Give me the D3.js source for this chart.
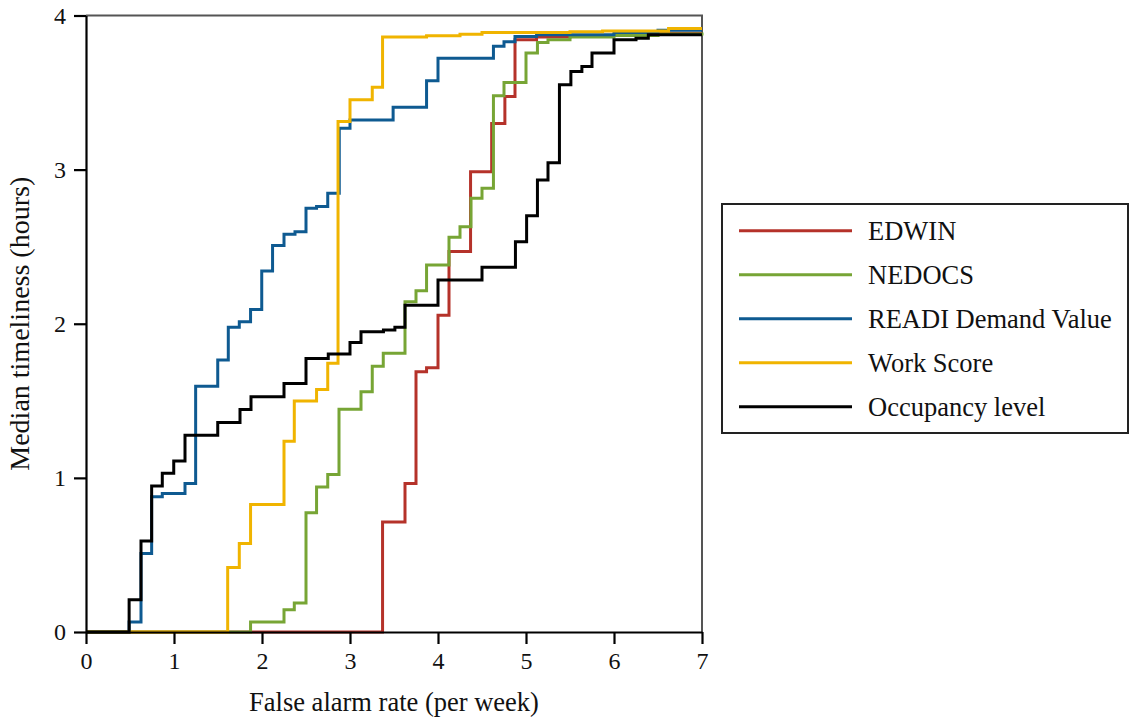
<!DOCTYPE html>
<html>
<head>
<meta charset="utf-8">
<script src="https://cdn.jsdelivr.net/npm/d3@7/dist/d3.min.js"></script>
<style>
  body { margin: 0; background: #fff; }
  svg text { font-family: "Liberation Serif", "Times New Roman", serif; fill: #111; }
</style>
</head>
<body>
<div id="chart"></div>
<script>
// series names and colours (legend order)
var names = ["EDWIN", "NEDOCS", "READI Demand Value", "Work Score", "Occupancy level"];
var colors = ["#b5322a", "#77a535", "#0e5a91", "#f0b400", "#000000"];

// step points: x = false alarms per week, y = median timeliness (hours)
var edwinX = [0, 3.37, 3.625, 3.75, 3.87, 4.0, 4.125, 4.37, 4.61, 4.76, 4.875, 5.12, 5.5, 6.0, 6.5, 7];
var edwinY = [0, 0.714, 0.964, 1.688, 1.714, 2.055, 2.468, 2.987, 3.30, 3.474, 3.842, 3.86, 3.87, 3.875, 3.885, 3.885];

var nedocsX = [0, 1.87, 2.25, 2.367, 2.5, 2.62, 2.747, 2.875, 3.125, 3.253, 3.378, 3.625, 3.75, 3.87, 4.125, 4.25, 4.375, 4.5, 4.63, 4.75, 5.0, 5.13, 5.25, 5.5, 6.0, 6.5, 7];
var nedocsY = [0, 0.065, 0.145, 0.188, 0.773, 0.94, 1.022, 1.446, 1.558, 1.725, 1.808, 2.143, 2.214, 2.381, 2.561, 2.63, 2.814, 2.879, 3.48, 3.565, 3.756, 3.825, 3.842, 3.86, 3.87, 3.88, 3.89];

var readiX = [0, 0.49, 0.625, 0.746, 0.867, 1.125, 1.246, 1.497, 1.617, 1.742, 1.87, 1.997, 2.12, 2.25, 2.375, 2.5, 2.62, 2.747, 2.878, 3.0, 3.49, 3.87, 4.0, 4.63, 4.75, 4.875, 5.12, 6.0, 6.5, 7];
var readiY = [0, 0.065, 0.509, 0.877, 0.899, 0.964, 1.595, 1.764, 1.977, 2.013, 2.093, 2.342, 2.507, 2.58, 2.597, 2.749, 2.76, 2.847, 3.269, 3.322, 3.405, 3.576, 3.723, 3.80, 3.83, 3.864, 3.875, 3.89, 3.905, 3.905];

var workX = [0, 1.61, 1.742, 1.87, 2.25, 2.367, 2.62, 2.747, 2.864, 3.0, 3.253, 3.37, 3.87, 4.25, 4.5, 5.5, 5.87, 6.62, 7];
var workY = [0, 0.418, 0.574, 0.827, 1.238, 1.498, 1.574, 1.743, 3.312, 3.453, 3.535, 3.86, 3.868, 3.879, 3.89, 3.894, 3.90, 3.916, 3.916];

var occX = [0, 0.49, 0.625, 0.746, 0.867, 0.997, 1.125, 1.497, 1.75, 1.875, 2.25, 2.5, 2.753, 3.0, 3.125, 3.38, 3.51, 3.625, 4.0, 4.5, 4.88, 5.007, 5.13, 5.25, 5.38, 5.51, 5.635, 5.75, 6.0, 6.25, 6.39, 7];
var occY = [0, 0.21, 0.59, 0.948, 1.03, 1.11, 1.277, 1.36, 1.444, 1.526, 1.613, 1.775, 1.803, 1.879, 1.948, 1.96, 1.977, 2.12, 2.284, 2.366, 2.532, 2.70, 2.933, 3.045, 3.55, 3.636, 3.669, 3.756, 3.842, 3.853, 3.875, 3.875];

var xTicks = [0, 1, 2, 3, 4, 5, 6, 7];
var yTicks = [0, 1, 2, 3, 4];

var seriesX = [edwinX, nedocsX, readiX, workX, occX];
var seriesY = [edwinY, nedocsY, readiY, workY, occY];

var width = 1133,
    height = 719;

var svg = d3.select("#chart").append("svg")
    .attr("width", width)
    .attr("height", height)

var xScale = d3.scaleLinear().domain([0, 7]).range([86, 702]),
    yScale = d3.scaleLinear().domain([0, 4]).range([632, 15.5]);

// top and right frame (grey)
svg.append("path")
    .attr("d", "M" + xScale(0) + "," + yScale(4) + "H" + xScale(7) + "V" + yScale(0))
    .attr("fill", "none")
    .attr("stroke", "#555")
    .attr("stroke-width", 2)

var line = d3.line()
    .x(function(d) { return xScale(d[0]) })
    .y(function(d) { return yScale(d[1]) })
    .curve(d3.curveStepAfter);

for (var i = 0; i < names.length; i++) {
  var pts = seriesX[i].map(function(x, j) { return [x, seriesY[i][j]] })
  svg.append("path")
      .datum(pts)
      .attr("d", line)
      .attr("fill", "none")
      .attr("stroke", colors[i])
      .attr("stroke-width", 3)
}

//Axes
var xAxis = svg.append("g")
    .attr("transform", "translate(0," + yScale(0) + ")")
    .call(d3.axisBottom(xScale).tickValues(xTicks).tickSize(12).tickSizeOuter(0).tickPadding(8).tickFormat(d3.format("d")))
var yAxis = svg.append("g")
    .attr("transform", "translate(" + xScale(0) + ",0)")
    .call(d3.axisLeft(yScale).tickValues(yTicks).tickSize(12).tickSizeOuter(0).tickPadding(8).tickFormat(d3.format("d")))

svg.selectAll(".domain").attr("stroke", "#000").attr("stroke-width", 2.2)
svg.selectAll(".tick line").attr("stroke", "#000").attr("stroke-width", 2.2)
svg.selectAll(".tick text")
    .style("font-family", "Liberation Serif, Times New Roman, serif")
    .style("font-size", "24px")
    .attr("fill", "#111")

svg.append("text")
    .attr("x", (xScale(0) + xScale(7)) / 2)
    .attr("y", 711)
    .attr("text-anchor", "middle")
    .style("font-size", "26.5px")
    .text("False alarm rate (per week)")

svg.append("text")
    .attr("transform", "translate(29," + ((yScale(0) + yScale(4)) / 2) + ") rotate(-90)")
    .attr("text-anchor", "middle")
    .style("font-size", "28px")
    .text("Median timeliness (hours)")

//Legend
var legend = svg.append("g")
svg.append("rect")
    .attr("x", 722)
    .attr("y", 204)
    .attr("width", 406)
    .attr("height", 229)
    .attr("fill", "#fff")
    .attr("stroke", "#222")
    .attr("stroke-width", 2)

var items = svg.selectAll(".legend-item")
    .data(names)
    .enter()
    .append("g")
    .attr("class", "legend-item")
    .attr("transform", function(d, i) { return "translate(0," + (230.7 + i * 44) + ")" })

items.append("line")
    .attr("x1", 739)
    .attr("x2", 852)
    .attr("stroke", function(d, i) { return colors[i] })
    .attr("stroke-width", 3)

items.append("text")
    .attr("x", 868)
    .attr("y", 9)
    .style("font-size", "26.5px")
    .text(function(d) { return d })
</script>
</body>
</html>
